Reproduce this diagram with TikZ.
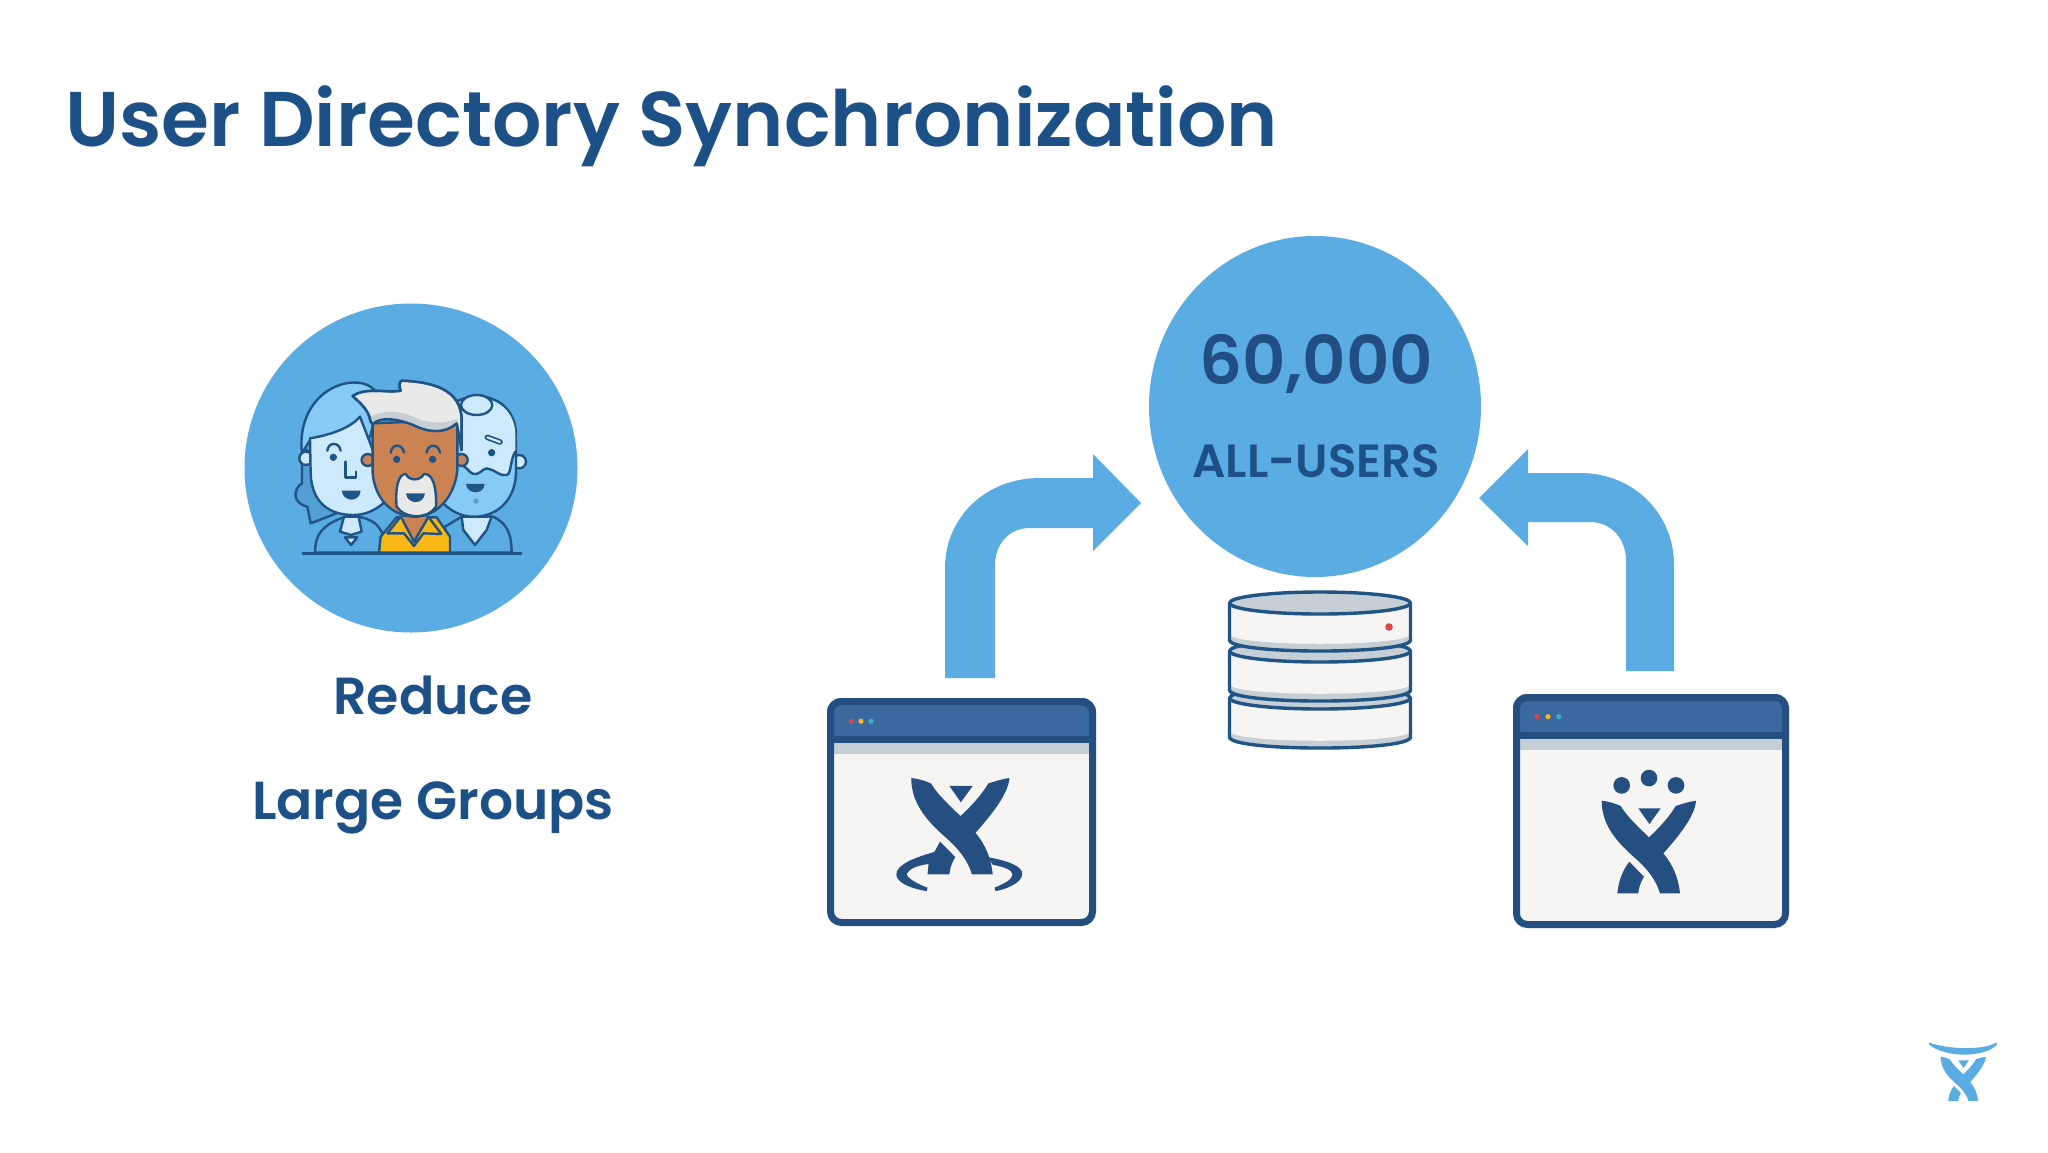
\documentclass[tikz,border=0pt]{standalone}
\usepackage{fontspec}
\setmainfont{Poppins}[UprightFont=* SemiBold]
\definecolor{sky}{HTML}{5BACE3}
\definecolor{ink}{HTML}{1C4F86}
\definecolor{txt}{HTML}{1E5088}
\definecolor{winbd}{HTML}{254F80}
\definecolor{winbar}{HTML}{3A699F}
\definecolor{winbg}{HTML}{F6F5F4}
\definecolor{strip}{HTML}{C6CFD6}
\definecolor{line}{HTML}{1F5485}
\definecolor{lface}{HTML}{CDEAFC}
\definecolor{lhair}{HTML}{86CAF6}
\definecolor{skin}{HTML}{CC8353}
\definecolor{yel}{HTML}{FBB715}
\definecolor{hairw}{HTML}{E9E9EA}
\definecolor{dotred}{HTML}{D8464F}
\definecolor{dotcyan}{HTML}{45A9C4}
\tikzset{
  disc/.style={fill=sky,draw=none},
  lbl/.style={text=txt,inner sep=0pt,anchor=base},
  arrowshape/.style={fill=sky,draw=none},
  outl/.style={draw=line,line width=2.4pt,line join=round,line cap=round},
  slab/.style={draw=line,line width=3.4pt,line join=round},
}
\newcommand{\xmain}[1]{%
  \fill[#1] (305,362) .. controls (330,365) and (350,372) .. (362,378)
    .. controls (385,415) and (420,445) .. (447,472)
    .. controls (475,445) and (505,415) .. (527,378)
    .. controls (545,372) and (565,365) .. (588,362)
    .. controls (585,410) and (530,475) .. (490,520)
    .. controls (520,555) and (535,595) .. (540,640)
    -- (480,640)
    .. controls (465,590) and (430,555) .. (395,525)
    .. controls (345,480) and (305,430) .. (305,362) -- cycle;
  \fill[#1] (415,385) -- (482,385) -- (448,432) -- cycle;
}
\newcommand{\xleg}[1]{%
  \fill[#1] (388,545) -- (432,590) .. controls (420,610) and (416,625) .. (415,640)
    -- (352,640) .. controls (355,605) and (368,570) .. (388,545) -- cycle;
}
\newcommand{\windowbox}[5]{% x0 y0 x1 y1 bar-bottom
  \fill[winbg,rounded corners=14pt] (#1,#2) rectangle (#3,#4);
  \begin{scope}
    \clip[rounded corners=14pt] (#1,#2) rectangle (#3,#4);
    \fill[winbar] (#1,#2) rectangle (#3,#5-6);
    \fill[winbd] (#1,#5-7) rectangle (#3,#5);
    \fill[strip] (#1,#5) rectangle (#3,#5+11);
  \end{scope}
  \draw[winbd,line width=7pt,rounded corners=11pt] (#1+3.5,#2+3.5) rectangle (#3-3.5,#4-3.5);
}
\newcommand{\dbslab}[2]{%
  \fill[strip] (1229.5,#1) -- (1229.5,#2) .. controls (1229.5,#2+14.7) and (1410.5,#2+14.7) .. (1410.5,#2) -- (1410.5,#1) -- cycle;
  \fill[winbg] (1229.5,#1) -- (1229.5,#2-6) .. controls (1229.5,#2+7) and (1410.5,#2+7) .. (1410.5,#2-6) -- (1410.5,#1) -- cycle;
  \draw[slab] (1229.5,#1) -- (1229.5,#2) .. controls (1229.5,#2+14.7) and (1410.5,#2+14.7) .. (1410.5,#2) -- (1410.5,#1);
  \draw[slab,fill=strip] (1320,#1) ellipse [x radius=90.5,y radius=11];
}
\begin{document}
\begin{tikzpicture}[x=1pt,y=-1pt]
\useasboundingbox (0,0) rectangle (2048,1152);
\fill[white] (0,0) rectangle (2048,1152);

% title
\node[lbl,anchor=base west] (title) at (65,146) {\resizebox{1213pt}{!}{\fontsize{80pt}{90pt}\selectfont User Directory Synchronization}};

% left disc
\fill[disc] (411,468) ellipse [x radius=166.5,y radius=164.5];

% people (zoom coordinates)
\begin{scope}[shift={(280,360)},x=0.3333pt,y=-0.3333pt]
  % woman back hair
  \path[outl,fill=sky!85!ink] (66,260) -- (66,370) .. controls (40,385) and (35,430) .. (82,440) -- (92,490) -- (170,460) -- (120,300) -- cycle;
  % woman hair
  \path[outl,fill=lhair] (66,280) .. controls (50,140) and (150,60) .. (235,68) .. controls (270,72) and (290,90) .. (300,120) -- (270,230) -- (90,240) -- cycle;
  % woman body
  \path[outl,fill=sky] (105,578) .. controls (105,520) and (130,495) .. (190,472) -- (245,472) .. controls (290,485) and (310,500) .. (320,578) -- cycle;
  \path[outl,fill=lface] (192,470) -- (180,515) -- (213,525) -- (245,515) -- (236,470) -- cycle;
  \path[outl,fill=lface] (195,532) -- (232,532) -- (213,555) -- cycle;
  % woman ear and face
  \path[outl,fill=lface] (78,295) circle (20);
  \path[outl,fill=lface] (90,235) .. controls (150,225) and (210,205) .. (240,170) -- (290,300) -- (310,430)
    .. controls (280,455) and (250,465) .. (220,465) .. controls (150,465) and (95,430) .. (92,340) -- cycle;
  \fill[line] (160,292) circle (11);
  \draw[outl] (142,272) .. controls (145,245) and (178,245) .. (182,272);
  \draw[outl] (197,305) -- (197,352) -- (228,352) -- (228,335);
  \fill[line] (185,392) -- (242,392) .. controls (240,428) and (190,428) .. (185,392) -- cycle;
  % right man body
  \path[outl,fill=sky] (495,578) -- (495,500) -- (545,470) -- (640,470) .. controls (680,490) and (695,520) .. (695,578) -- cycle;
  \path[outl,fill=lface] (545,470) -- (550,510) -- (585,555) -- (620,510) -- (635,470) -- cycle;
  % right man ear and head
  \path[outl,fill=lface] (718,305) circle (20);
  \path[outl,fill=lhair] (520,130) .. controls (600,80) and (708,120) .. (708,225) -- (708,340)
    .. controls (705,430) and (640,472) .. (580,470) .. controls (540,470) and (510,450) .. (490,430) -- cycle;
  \fill[lface] (535,140) .. controls (600,90) and (706,125) .. (706,225) -- (706,275)
     .. controls (690,300) and (695,340) .. (680,345) .. controls (660,350) and (645,330) .. (630,328)
     .. controls (610,320) and (610,335) .. (590,342) .. controls (570,345) and (570,330) .. (550,318) -- cycle;
  \draw[outl] (550,318) .. controls (570,330) and (570,345) .. (590,342) .. controls (610,335) and (610,320) .. (630,328) .. controls (645,330) and (660,350) .. (680,345) .. controls (695,340) and (690,300) .. (706,275);
  \path[outl,fill=lface] (590,135) ellipse [x radius=47,y radius=30];
  \draw[line,line width=5.6pt,line cap=round] (622,232) -- (660,246);
  \draw[lface,line width=2.2pt,line cap=round] (622,232) -- (660,246);
  \fill[line] (635,278) circle (11);
  \fill[line] (558,372) -- (614,372) .. controls (612,405) and (562,405) .. (558,372) -- cycle;
  \fill[line!40!lhair] (588,423) circle (8);
  % centre man
  \path[outl,fill=yel] (297,578) -- (302,530) -- (350,472) -- (470,472) -- (510,530) -- (510,578) -- cycle;
  \fill[skin] (362,470) -- (362,490) -- (402,555) -- (445,490) -- (445,470) -- cycle;
  \path[outl,fill=yel] (362,470) -- (322,520) -- (372,520) -- (402,558) -- (430,520) -- (484,522) -- (445,470) -- (440,480) -- (402,545) -- (368,480) -- cycle;
  \path[outl,fill=skin] (263,300) circle (18);
  \path[outl,fill=skin] (545,300) circle (18);
  \path[outl,fill=skin] (278,190) -- (278,340) .. controls (285,420) and (340,470) .. (405,470)
    .. controls (470,470) and (525,410) .. (532,330) -- (532,180) -- cycle;
  \path[outl,fill=hairw] (218,108) .. controls (260,80) and (320,100) .. (362,92) .. controls (355,75) and (360,65) .. (365,62)
    .. controls (450,65) and (545,85) .. (545,180) -- (545,270) -- (530,190) .. controls (490,225) and (440,215) .. (400,195)
    .. controls (350,175) and (300,170) .. (278,192) -- (272,185) .. controls (265,145) and (235,125) .. (218,108) -- cycle;
  \fill[strip] (272,170) .. controls (310,150) and (350,150) .. (400,170) .. controls (440,190) and (490,195) .. (534,175) -- (531,188) .. controls (490,222) and (440,213) .. (400,194) .. controls (350,174) and (300,170) .. (279,190) -- cycle;
  \path[outl] (218,108) .. controls (260,80) and (320,100) .. (362,92) .. controls (355,75) and (360,65) .. (365,62)
    .. controls (450,65) and (545,85) .. (545,180) -- (545,270) -- (530,190) .. controls (490,225) and (440,215) .. (400,195)
    .. controls (350,175) and (300,170) .. (278,192) -- (272,185) .. controls (265,145) and (235,125) .. (218,108) -- cycle;
  \path[outl,fill=hairw] (350,440) .. controls (345,385) and (355,340) .. (378,342) .. controls (385,362) and (420,365) .. (432,342)
    .. controls (460,340) and (470,385) .. (468,440) .. controls (445,478) and (375,478) .. (350,440) -- cycle;
  \fill[line] (378,400) -- (435,400) .. controls (432,435) and (382,435) .. (378,400) -- cycle;
  \fill[line] (350,298) circle (11);
  \fill[line] (458,298) circle (11);
  \draw[outl] (332,278) .. controls (335,250) and (368,250) .. (372,278);
  \draw[outl] (440,278) .. controls (443,250) and (476,250) .. (480,278);
  % ground line
  \draw[outl,line width=2.6pt,line cap=butt] (65,581) -- (727,581);
\end{scope}

\node[lbl] (reduce) at (433,714) {\resizebox{199pt}{!}{\fontsize{40pt}{48pt}\selectfont Reduce}};
\node[lbl] (groups) at (433,819) {\resizebox{362pt}{!}{\fontsize{40pt}{48pt}\selectfont Large Groups}};

% arrows
\fill[arrowshape] (945,678) -- (945,568) .. controls (945,518) and (985,478) .. (1040,478) -- (1093,478) -- (1093,454) -- (1141,503) -- (1093,551) -- (1093,528) -- (1030,528) .. controls (1008,528) and (995,545) .. (995,565) -- (995,678) -- cycle;
\fill[arrowshape] (1674,671) -- (1674,565) .. controls (1674,515) and (1635,473) .. (1580,473) -- (1528,473) -- (1528,449) -- (1479,498) -- (1528,546) -- (1528,522) -- (1590,522) .. controls (1612,522) and (1626,540) .. (1626,560) -- (1626,671) -- cycle;

% big disc
\fill[disc] (1315,406.5) ellipse [x radius=166,y radius=170.5];
\node[lbl,text=winbd!60!txt] (count) at (1316,384) {\resizebox{234pt}{!}{\fontsize{66pt}{72pt}\selectfont 60,000}};
\node[lbl] (allusers) at (1316,477) {\resizebox{247pt}{!}{\fontsize{44pt}{52pt}\selectfont ALL-USERS}};

% database
\dbslab{698}{737}
\dbslab{651}{690}
\dbslab{603}{640}
\fill[dotred] (1389,627) circle (3.8);

% left window
\windowbox{827}{698}{1096}{926}{743}
\fill[dotred] (851,721.3) circle (2.6);
\fill[yel] (861,721.3) circle (2.6);
\fill[dotcyan] (871,721.3) circle (2.6);
\begin{scope}[shift={(960.5,778)},x=0.347pt,y=-0.347pt]
  \begin{scope}[shift={(-447,-362)}]
    \xmain{winbd}
    \fill[winbd] (388,545) -- (432,590) .. controls (420,610) and (416,625) .. (415,640) -- (352,640) -- (355,610) .. controls (335,612) and (298,620) .. (292,640)
      .. controls (296,655) and (335,672) .. (352,678) -- (350,688) .. controls (310,682) and (262,665) .. (262,640)
      .. controls (262,610) and (320,590) .. (372,575) -- cycle;
    \fill[winbd] (525,590) .. controls (580,600) and (627,615) .. (625,640) .. controls (622,665) and (580,682) .. (548,688) -- (545,678) .. controls (570,668) and (597,655) .. (597,640) .. controls (595,625) and (570,618) .. (540,612) -- cycle;
  \end{scope}
\end{scope}

% right window
\windowbox{1513}{694}{1789}{928}{739}
\fill[dotred] (1537,716.7) circle (2.6);
\fill[yel] (1548,716.7) circle (2.6);
\fill[dotcyan] (1558.7,716.7) circle (2.6);
\begin{scope}[shift={(1649,800.7)},x=0.3333pt,y=-0.3333pt]
  \begin{scope}[shift={(-447,-362)}]
    \xmain{winbd}
    \xleg{winbd}
    \fill[winbd] (365,316) circle (25);
    \fill[winbd] (447,294) circle (25);
    \fill[winbd] (528,316) circle (25);
  \end{scope}
\end{scope}

% corner logo
\fill[sky] (1929,1042.5) .. controls (1950,1050) and (1985,1050) .. (1996,1042.5) -- (1997,1044.5) .. controls (1985,1058) and (1945,1058) .. (1929,1044.5) -- cycle;
\begin{scope}[shift={(1963.3,1056.7)},x=0.16pt,y=-0.16pt]
  \begin{scope}[shift={(-447,-362)}]
    \xmain{sky}
    \xleg{sky}
  \end{scope}
\end{scope}
\end{tikzpicture}
\end{document}
